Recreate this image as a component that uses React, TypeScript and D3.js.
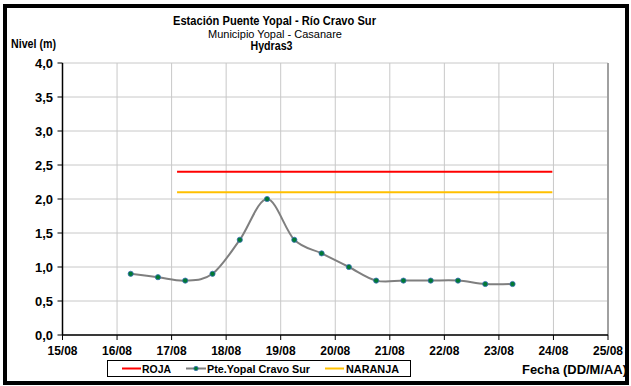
import React from "react";
import * as d3 from "d3";

const dayTicks = ["15/08", "16/08", "17/08", "18/08", "19/08", "20/08", "21/08", "22/08", "23/08", "24/08", "25/08"];
const yTicks = [0, 0.5, 1, 1.5, 2, 2.5, 3, 3.5, 4];
// time in days since 15/08 00:00
const obsTimes = [1.25, 1.75, 2.25, 2.75, 3.25, 3.75, 4.25, 4.75, 5.25, 5.75, 6.25, 6.75, 7.25, 7.75, 8.25];
const obsLevels = [0.9, 0.85, 0.8, 0.9, 1.4, 2.0, 1.4, 1.2, 1.0, 0.8, 0.8, 0.8, 0.8, 0.75, 0.75];
const thresholdSpan = [2.1, 8.98];
const rojaLevel = 2.4;
const naranjaLevel = 2.1;

const W = 631, H = 386;
const left = 62.5, right = 608, top = 63, bottom = 335;

export default function App() {
  const x = d3.scaleLinear().domain([0, 10]).range([left, right]);
  const y = d3.scaleLinear().domain([0, 4]).range([bottom, top]);
  const pts = obsTimes.map((t, i) => [t, obsLevels[i]] as [number, number]);
  const line = d3.line<[number, number]>().x(d => x(d[0])).y(d => y(d[1])).curve(d3.curveCatmullRom.alpha(0));
  const font = "'Liberation Sans', Arial, sans-serif";
  return (
    <svg width={W} height={H} style={{ position: "absolute", left: 0, top: 0, background: "#fff" }} fontFamily={font}>
      <rect x={0} y={0} width={W} height={H} fill="#fff" />
      <rect x={5} y={6} width={622} height={377} fill="none" stroke="#000" strokeWidth={4} />
      <text x={274.5} y={25} textAnchor="middle" fontSize={12.5} fontWeight="bold" textLength={203} lengthAdjust="spacingAndGlyphs">Estación Puente Yopal  - Río Cravo Sur</text>
      <text x={275} y={38} textAnchor="middle" fontSize={11.5} textLength={134} lengthAdjust="spacingAndGlyphs">Municipio Yopal - Casanare</text>
      <text x={271.5} y={49.5} textAnchor="middle" fontSize={12.5} fontWeight="bold" textLength={42} lengthAdjust="spacingAndGlyphs">Hydras3</text>
      <text x={11} y={48} fontSize={12} fontWeight="bold" textLength={45} lengthAdjust="spacingAndGlyphs">Nivel (m)</text>
      {/* grid */}
      {yTicks.map(v => (
        <line key={"gy" + v} x1={left} x2={right} y1={y(v)} y2={y(v)} stroke="#c8c8c8" strokeWidth={1} />
      ))}
      {dayTicks.map((d, i) => (
        <line key={"gx" + i} x1={x(i)} x2={x(i)} y1={top} y2={bottom} stroke="#c8c8c8" strokeWidth={1} />
      ))}
      <line x1={right} x2={right} y1={top} y2={bottom} stroke="#a0a0a0" strokeWidth={2} />
      {/* axes */}
      <line x1={left} x2={left} y1={top} y2={bottom} stroke="#000" strokeWidth={1.5} />
      <line x1={left} x2={right} y1={bottom} y2={bottom} stroke="#000" strokeWidth={1.5} />
      {yTicks.map(v => (
        <g key={"ty" + v}>
          <line x1={left - 5} x2={left} y1={y(v)} y2={y(v)} stroke="#000" />
          <text x={53} y={y(v) + 4.5} textAnchor="end" fontSize={13} fontWeight="bold" textLength={18} lengthAdjust="spacingAndGlyphs">{d3.format(".1f")(v).replace(".", ",")}</text>
        </g>
      ))}
      {dayTicks.map((d, i) => (
        <g key={"tx" + i}>
          <line x1={x(i)} x2={x(i)} y1={bottom} y2={bottom + 5} stroke="#000" />
          <text x={x(i)} y={355} textAnchor="middle" fontSize={13} fontWeight="bold" textLength={30} lengthAdjust="spacingAndGlyphs">{d}</text>
        </g>
      ))}
      {/* thresholds */}
      <line x1={x(thresholdSpan[0])} x2={x(thresholdSpan[1])} y1={y(rojaLevel)} y2={y(rojaLevel)} stroke="#ff0000" strokeWidth={2} />
      <line x1={x(thresholdSpan[0])} x2={x(thresholdSpan[1])} y1={y(naranjaLevel)} y2={y(naranjaLevel)} stroke="#ffc000" strokeWidth={2} />
      {/* series */}
      <path d={line(pts) || ""} fill="none" stroke="#7f7f7f" strokeWidth={2} />
      {pts.map((p, i) => (
        <circle key={"p" + i} cx={x(p[0])} cy={y(p[1])} r={2.6} fill="#007a33" stroke="#3b6fb6" strokeWidth={0.8} />
      ))}
      {/* legend */}
      <rect x={107.5} y={360.5} width={303} height={16} fill="#fff" stroke="#000" strokeWidth={1} />
      <line x1={122} x2={141} y1={368.5} y2={368.5} stroke="#ff0000" strokeWidth={2} />
      <text x={142} y={372.5} fontSize={11} fontWeight="bold" textLength={29} lengthAdjust="spacingAndGlyphs">ROJA</text>
      <line x1={186} x2={206} y1={368.5} y2={368.5} stroke="#7f7f7f" strokeWidth={2} />
      <circle cx={196} cy={368.5} r={2.2} fill="#007a33" stroke="#3b6fb6" strokeWidth={0.8} />
      <text x={207} y={372.5} fontSize={11} fontWeight="bold" textLength={103} lengthAdjust="spacingAndGlyphs">Pte.Yopal Cravo Sur</text>
      <line x1={325} x2={344} y1={368.5} y2={368.5} stroke="#ffc000" strokeWidth={2} />
      <text x={346} y={372.5} fontSize={11} fontWeight="bold" textLength={53} lengthAdjust="spacingAndGlyphs">NARANJA</text>
      <text x={627} y={374} textAnchor="end" fontSize={12.5} fontWeight="bold" textLength={105} lengthAdjust="spacingAndGlyphs">Fecha (DD/M/AA)</text>
    </svg>
  );
}
